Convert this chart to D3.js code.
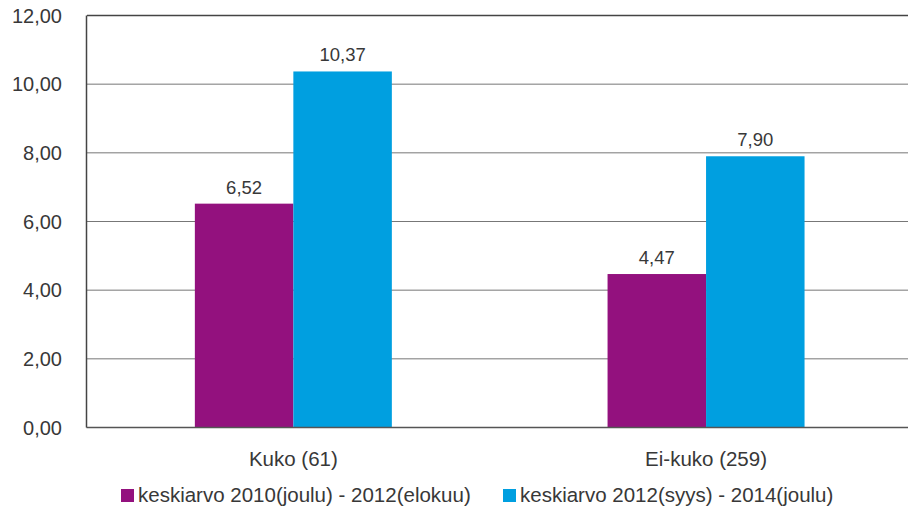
<!DOCTYPE html>
<html>
<head>
<meta charset="utf-8">
<script src="https://cdn.jsdelivr.net/npm/d3@7"></script>
<style>
  body { margin: 0; background: #fff; }
  text { font-family: "Liberation Sans", Arial, sans-serif; fill: #383838; }
</style>
</head>
<body>
<div id="chart"></div>
<script>
const categories = ["Kuko (61)", "Ei-kuko (259)"];
const seriesNames = ["keskiarvo 2010(joulu) - 2012(elokuu)", "keskiarvo 2012(syys) - 2014(joulu)"];
const seriesA = [6.52, 4.47];
const seriesB = [10.37, 7.90];
const yTicks = [0, 2, 4, 6, 8, 10, 12];
const colors = ["#93117e", "#009fe0"];

const fmt = v => v.toFixed(2).replace(".", ",");

const width = 908, height = 510;
const svg = d3.select("#chart").append("svg")
    .attr("width", width)
    .attr("height", height);

const x0 = d3.scaleBand().domain(categories).range([87, 912.4]).padding(0);
const x1 = d3.scaleBand().domain([0, 1]).range([0, x0.bandwidth()])
    .paddingInner(0).paddingOuter(1.095);
const y = d3.scaleLinear().domain([0, 12]).range([427.5, 15.5]);

// gridlines
svg.append("g")
    .selectAll("line")
    .data(yTicks.filter(d => d > 0))
    .join("line")
    .attr("x1", 87).attr("x2", width)
    .attr("y1", d => y(d)).attr("y2", d => y(d))
    .attr("stroke", d => d === 12 ? "#444" : "#777")
    .attr("stroke-width", d => d === 12 ? 1.5 : 1);

// y labels
svg.append("g")
    .selectAll("text")
    .data(yTicks)
    .join("text")
    .attr("x", 62)
    .attr("y", d => y(d))
    .attr("dy", "0.35em")
    .attr("text-anchor", "end")
    .style("font-size", "20px")
    .text(d => fmt(d));

// bars
const rows = categories.map((c, i) => ({ cat: c, vals: [seriesA[i], seriesB[i]] }));
const groups = svg.append("g")
    .selectAll("g")
    .data(rows)
    .join("g")
    .attr("transform", d => `translate(${x0(d.cat)},0)`);

groups.selectAll("rect")
    .data(d => d.vals.map((v, k) => ({ v, k })))
    .join("rect")
    .attr("x", d => x1(d.k))
    .attr("width", x1.bandwidth())
    .attr("y", d => y(d.v))
    .attr("height", d => y(0) - y(d.v))
    .attr("fill", d => colors[d.k]);

groups.selectAll("text")
    .data(d => d.vals.map((v, k) => ({ v, k })))
    .join("text")
    .attr("x", d => x1(d.k) + x1.bandwidth() / 2)
    .attr("y", d => y(d.v) - 10)
    .attr("text-anchor", "middle")
    .style("font-size", "18.5px")
    .text(d => fmt(d.v));

// axes lines
svg.append("line")
    .attr("x1", 86.5).attr("x2", width)
    .attr("y1", y(0)).attr("y2", y(0))
    .attr("stroke", "#555").attr("stroke-width", 1.5);
svg.append("line")
    .attr("x1", 86.5).attr("x2", 86.5)
    .attr("y1", y(12)).attr("y2", y(0))
    .attr("stroke", "#444").attr("stroke-width", 1.5);

// category labels
svg.append("g")
    .selectAll("text")
    .data(categories)
    .join("text")
    .attr("x", d => x0(d) + x0.bandwidth() / 2)
    .attr("y", 466)
    .attr("text-anchor", "middle")
    .style("font-size", "20.5px")
    .text(d => d);

// legend
const legendX = [121, 503];
const legend = svg.append("g")
    .selectAll("g")
    .data(seriesNames)
    .join("g")
    .attr("transform", (d, i) => `translate(${legendX[i]},489)`);
legend.append("rect")
    .attr("width", 13).attr("height", 13)
    .attr("fill", (d, i) => colors[i]);
legend.append("text")
    .attr("x", 17)
    .attr("y", 13)
    .style("font-size", "20.5px")
    .text(d => d);
</script>
</body>
</html>
